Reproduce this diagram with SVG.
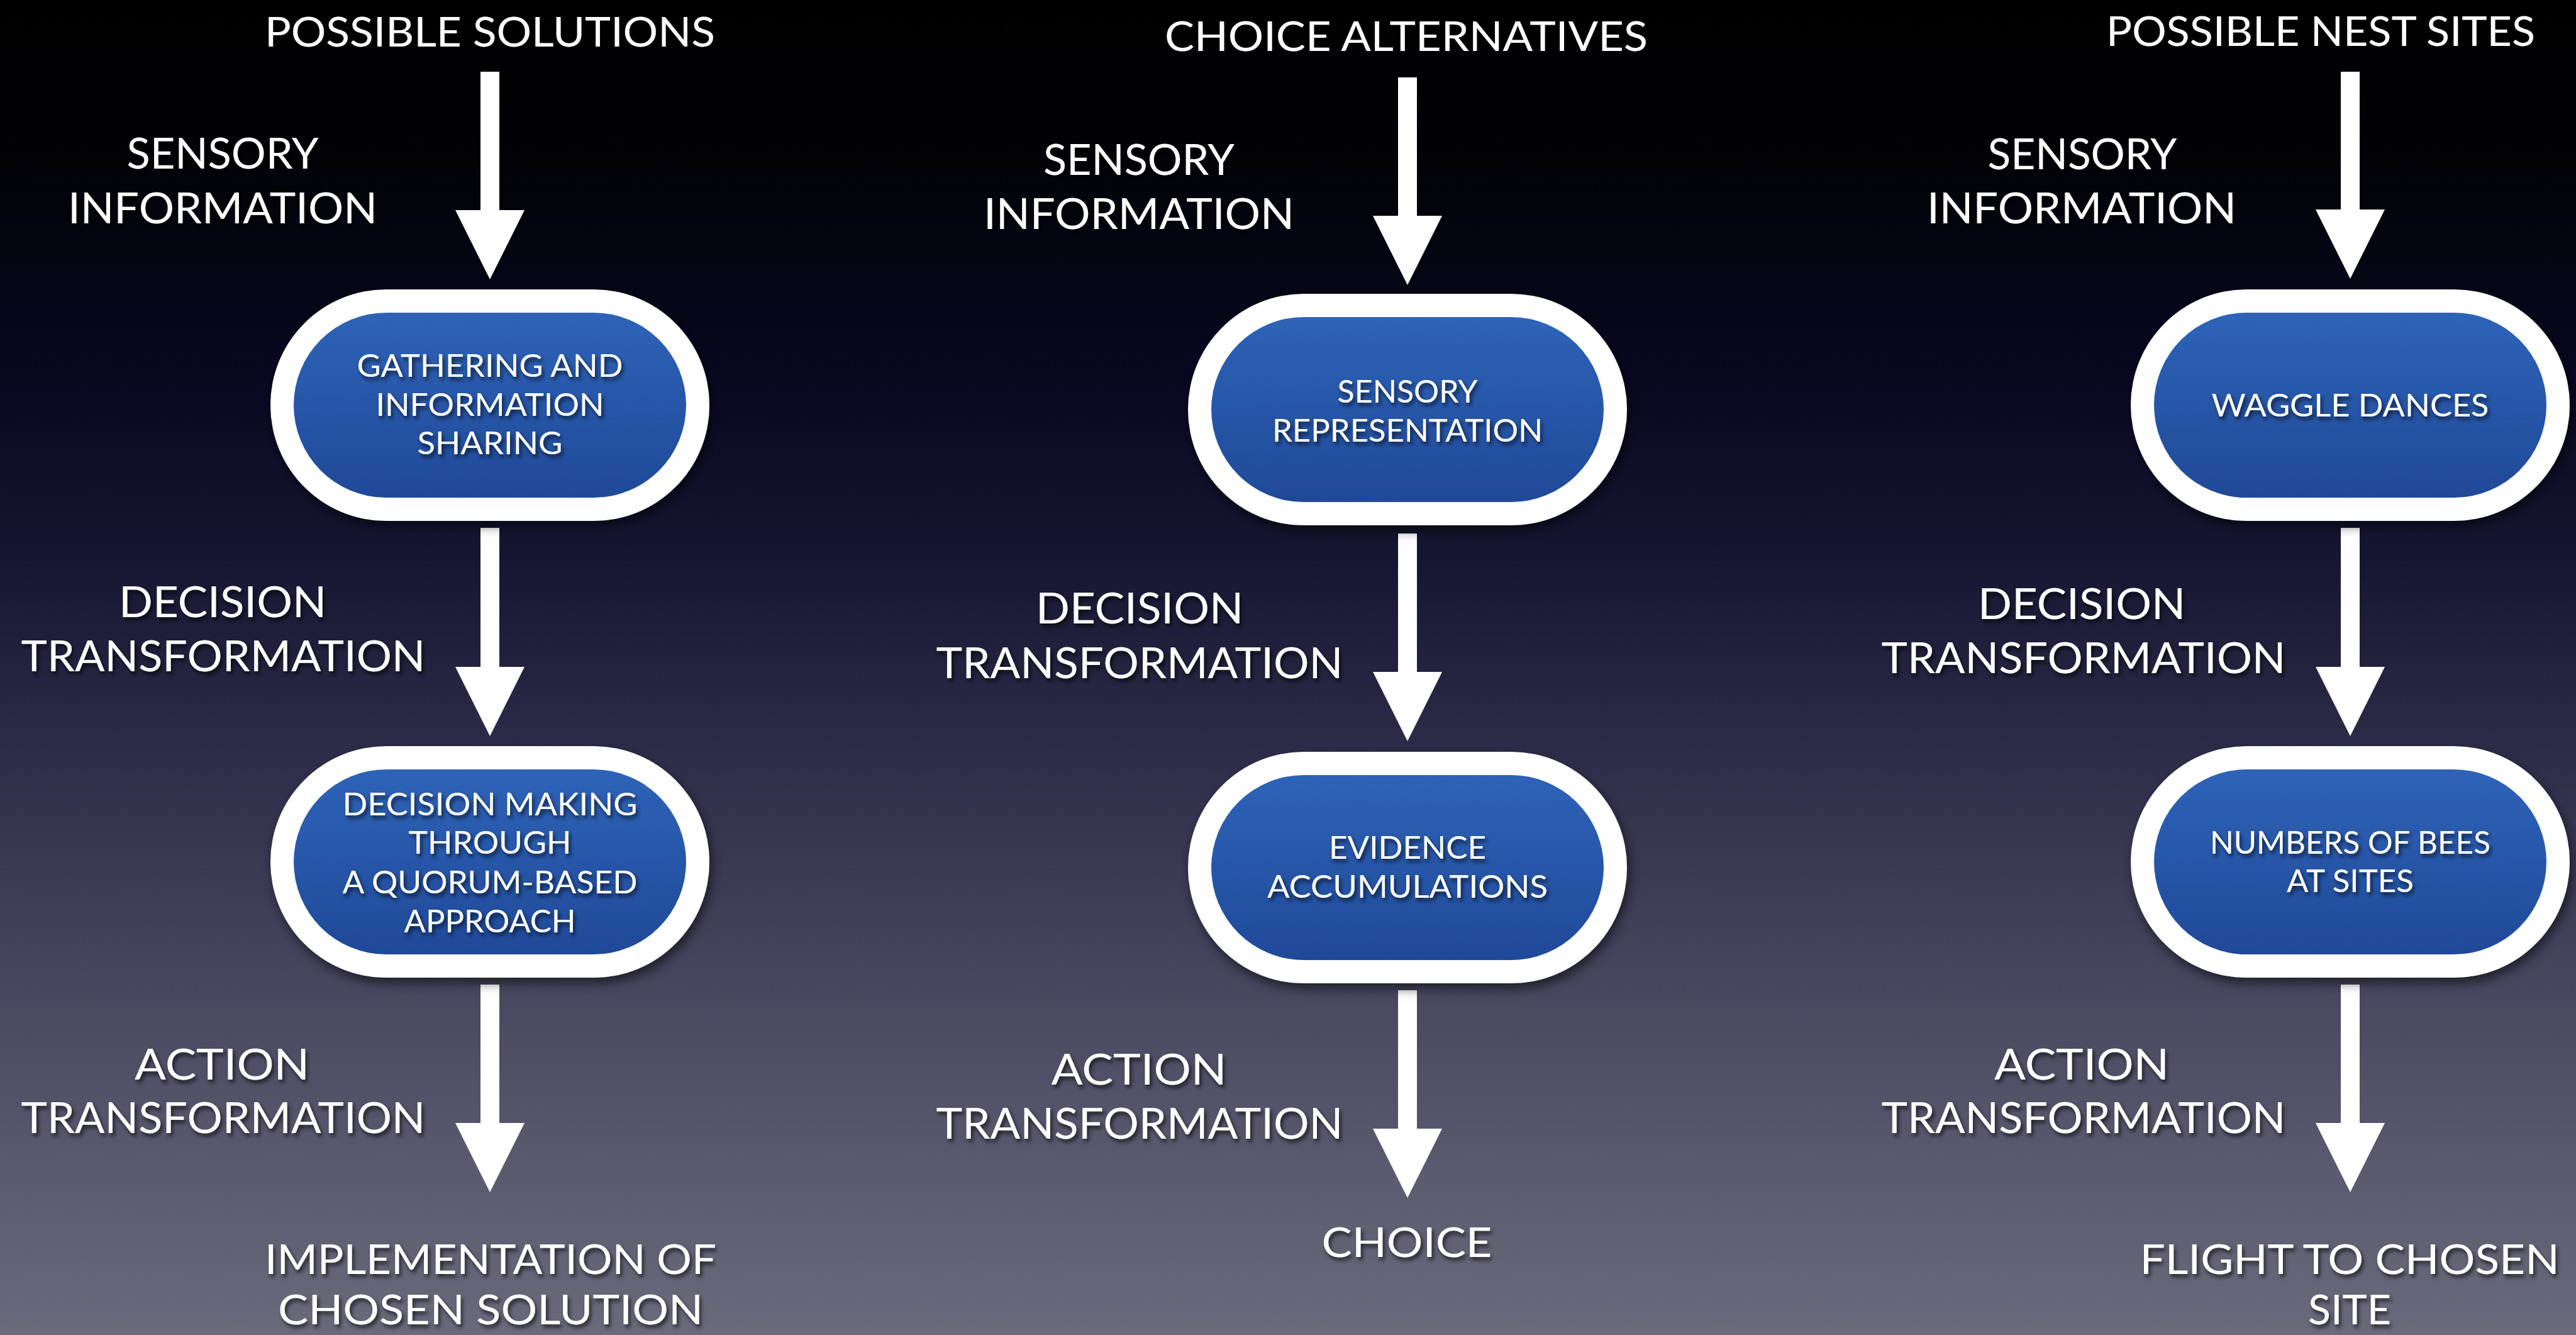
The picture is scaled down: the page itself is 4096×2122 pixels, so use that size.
<svg xmlns="http://www.w3.org/2000/svg" width="4096" height="2122" viewBox="0 0 4096 2122">
  <defs>
    <linearGradient id="bg" x1="0" y1="0" x2="0" y2="1">
      <stop offset="0" stop-color="#000000"/>
      <stop offset="0.12" stop-color="#020207"/>
      <stop offset="0.28" stop-color="#08071f"/>
      <stop offset="0.42" stop-color="#171632"/>
      <stop offset="0.56" stop-color="#2d2b47"/>
      <stop offset="0.70" stop-color="#43415a"/>
      <stop offset="0.85" stop-color="#58566b"/>
      <stop offset="1" stop-color="#6b6a7b"/>
    </linearGradient>
    <linearGradient id="pill" x1="0" y1="0" x2="0" y2="1">
      <stop offset="0" stop-color="#2e63b8"/>
      <stop offset="1" stop-color="#1f4998"/>
    </linearGradient>
    <filter id="textShadow" x="-10%" y="-40%" width="125%" height="190%">
      <feDropShadow dx="3" dy="5" stdDeviation="3" flood-color="#000000" flood-opacity="0.65"/>
    </filter>
    <filter id="nodeShadow" x="-10%" y="-15%" width="125%" height="140%">
      <feDropShadow dx="4" dy="9" stdDeviation="9" flood-color="#000000" flood-opacity="0.55"/>
    </filter>
    <marker id="head" viewBox="0 -55 112 110" refX="2" refY="0" markerWidth="112" markerHeight="110" markerUnits="userSpaceOnUse" orient="auto">
      <path d="M0,-55 L0,55 L110,0 Z" fill="#ffffff"/>
    </marker>
    <style>
      text { font-family: "Lato", "Open Sans", "Liberation Sans", sans-serif; fill: #ffffff; text-anchor: middle; filter: url(#textShadow); }
      .title { font-size: 66px; }
      .label { font-size: 67px; }
      .inner { font-size: 51px; }
      .shaft { stroke: #ffffff; stroke-width: 30; fill: none; marker-end: url(#head); }
      .ring { fill: #ffffff; filter: url(#nodeShadow); }
      .core { fill: url(#pill); }
    </style>
  </defs>

  <rect x="0" y="0" width="4096" height="2122" fill="url(#bg)"/>

  <!-- arrows between stages -->
  <g id="connectors">
    <line class="shaft" x1="779" y1="114" x2="779" y2="336"/>
    <line class="shaft" x1="779" y1="839" x2="779" y2="1062"/>
    <line class="shaft" x1="779" y1="1565" x2="779" y2="1787"/>

    <line class="shaft" x1="2238" y1="123" x2="2238" y2="345"/>
    <line class="shaft" x1="2238" y1="848" x2="2238" y2="1070"/>
    <line class="shaft" x1="2238" y1="1574" x2="2238" y2="1796"/>

    <line class="shaft" x1="3737" y1="114" x2="3737" y2="335"/>
    <line class="shaft" x1="3737" y1="839" x2="3737" y2="1062"/>
    <line class="shaft" x1="3737" y1="1565" x2="3737" y2="1787"/>
  </g>

  <!-- column 1: collective decision -->
  <g id="col1-labels">
    <text class="title" x="779" y="74" textLength="716" lengthAdjust="spacingAndGlyphs">POSSIBLE SOLUTIONS</text>
    <text class="label" x="354" y="268" textLength="305" lengthAdjust="spacingAndGlyphs">SENSORY</text>
    <text class="label" x="354" y="355" textLength="492" lengthAdjust="spacingAndGlyphs">INFORMATION</text>
    <text class="label" x="354" y="981" textLength="330" lengthAdjust="spacingAndGlyphs">DECISION</text>
    <text class="label" x="355" y="1067" textLength="643" lengthAdjust="spacingAndGlyphs">TRANSFORMATION</text>
    <text class="label" x="353" y="1716" textLength="278" lengthAdjust="spacingAndGlyphs">ACTION</text>
    <text class="label" x="355" y="1801" textLength="643" lengthAdjust="spacingAndGlyphs">TRANSFORMATION</text>
    <text class="title" x="780" y="2025" textLength="718" lengthAdjust="spacingAndGlyphs">IMPLEMENTATION OF</text>
    <text class="title" x="780" y="2105" textLength="676" lengthAdjust="spacingAndGlyphs">CHOSEN SOLUTION</text>
  </g>
  <g id="node-gathering">
    <rect class="ring" x="430" y="460" width="698" height="368" rx="184"/>
    <rect class="core" x="467" y="497" width="624" height="294" rx="147"/>
    <text class="inner" x="779" y="599" textLength="423" lengthAdjust="spacingAndGlyphs">GATHERING AND</text>
    <text class="inner" x="779" y="661" textLength="363" lengthAdjust="spacingAndGlyphs">INFORMATION</text>
    <text class="inner" x="779" y="722" textLength="231" lengthAdjust="spacingAndGlyphs">SHARING</text>
  </g>
  <g id="node-quorum">
    <rect class="ring" x="430" y="1186" width="698" height="368" rx="184"/>
    <rect class="core" x="467" y="1223" width="624" height="294" rx="147"/>
    <text class="inner" x="779" y="1296" textLength="469" lengthAdjust="spacingAndGlyphs">DECISION MAKING</text>
    <text class="inner" x="779" y="1357" textLength="259" lengthAdjust="spacingAndGlyphs">THROUGH</text>
    <text class="inner" x="779" y="1420" textLength="469" lengthAdjust="spacingAndGlyphs">A QUORUM-BASED</text>
    <text class="inner" x="779" y="1482" textLength="273" lengthAdjust="spacingAndGlyphs">APPROACH</text>
  </g>

  <!-- column 2: neural decision -->
  <g id="col2-labels">
    <text class="title" x="2236" y="81" textLength="768" lengthAdjust="spacingAndGlyphs">CHOICE ALTERNATIVES</text>
    <text class="label" x="1811" y="278" textLength="304" lengthAdjust="spacingAndGlyphs">SENSORY</text>
    <text class="label" x="1811" y="364" textLength="494" lengthAdjust="spacingAndGlyphs">INFORMATION</text>
    <text class="label" x="1812" y="991" textLength="330" lengthAdjust="spacingAndGlyphs">DECISION</text>
    <text class="label" x="1812" y="1078" textLength="647" lengthAdjust="spacingAndGlyphs">TRANSFORMATION</text>
    <text class="label" x="1811" y="1724" textLength="279" lengthAdjust="spacingAndGlyphs">ACTION</text>
    <text class="label" x="1812" y="1810" textLength="647" lengthAdjust="spacingAndGlyphs">TRANSFORMATION</text>
    <text class="title" x="2237" y="1998" textLength="271" lengthAdjust="spacingAndGlyphs">CHOICE</text>
  </g>
  <g id="node-sensory">
    <rect class="ring" x="1889" y="467" width="698" height="368" rx="184"/>
    <rect class="core" x="1926" y="504" width="624" height="294" rx="147"/>
    <text class="inner" x="2238" y="640" textLength="223" lengthAdjust="spacingAndGlyphs">SENSORY</text>
    <text class="inner" x="2238" y="702" textLength="430" lengthAdjust="spacingAndGlyphs">REPRESENTATION</text>
  </g>
  <g id="node-evidence">
    <rect class="ring" x="1889" y="1195" width="698" height="368" rx="184"/>
    <rect class="core" x="1926" y="1232" width="624" height="294" rx="147"/>
    <text class="inner" x="2238" y="1365" textLength="250" lengthAdjust="spacingAndGlyphs">EVIDENCE</text>
    <text class="inner" x="2238" y="1427" textLength="446" lengthAdjust="spacingAndGlyphs">ACCUMULATIONS</text>
  </g>

  <!-- column 3: honeybee swarm -->
  <g id="col3-labels">
    <text class="title" x="3690" y="73" textLength="682" lengthAdjust="spacingAndGlyphs">POSSIBLE NEST SITES</text>
    <text class="label" x="3311" y="269" textLength="301" lengthAdjust="spacingAndGlyphs">SENSORY</text>
    <text class="label" x="3310" y="355" textLength="492" lengthAdjust="spacingAndGlyphs">INFORMATION</text>
    <text class="label" x="3310" y="984" textLength="330" lengthAdjust="spacingAndGlyphs">DECISION</text>
    <text class="label" x="3313" y="1070" textLength="643" lengthAdjust="spacingAndGlyphs">TRANSFORMATION</text>
    <text class="label" x="3310" y="1716" textLength="278" lengthAdjust="spacingAndGlyphs">ACTION</text>
    <text class="label" x="3313" y="1801" textLength="643" lengthAdjust="spacingAndGlyphs">TRANSFORMATION</text>
    <text class="title" x="3736" y="2025" textLength="667" lengthAdjust="spacingAndGlyphs">FLIGHT TO CHOSEN</text>
    <text class="title" x="3736" y="2105" textLength="132" lengthAdjust="spacingAndGlyphs">SITE</text>
  </g>
  <g id="node-waggle">
    <rect class="ring" x="3388" y="460" width="698" height="368" rx="184"/>
    <rect class="core" x="3425" y="497" width="624" height="294" rx="147"/>
    <text class="inner" x="3737" y="662" textLength="441" lengthAdjust="spacingAndGlyphs">WAGGLE DANCES</text>
  </g>
  <g id="node-bees">
    <rect class="ring" x="3388" y="1186" width="698" height="368" rx="184"/>
    <rect class="core" x="3425" y="1223" width="624" height="294" rx="147"/>
    <text class="inner" x="3737" y="1357" textLength="446" lengthAdjust="spacingAndGlyphs">NUMBERS OF BEES</text>
    <text class="inner" x="3737" y="1418" textLength="202" lengthAdjust="spacingAndGlyphs">AT SITES</text>
  </g>
</svg>
